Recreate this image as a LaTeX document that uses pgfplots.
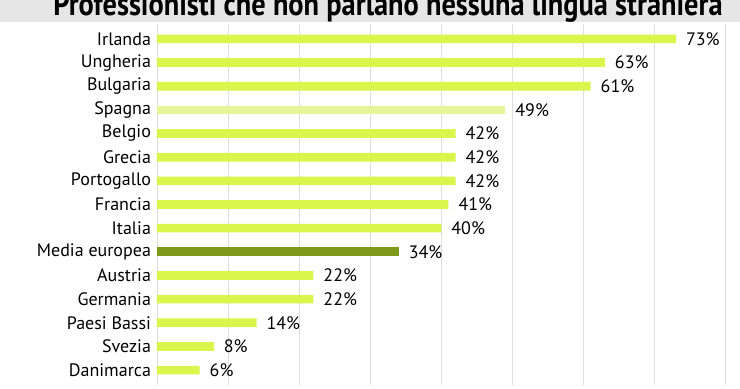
\documentclass[border=0pt]{standalone}
\usepackage{pgfplots}
\pgfplotsset{compat=1.18}
\usepackage{pgfplotstable}
\usepackage{fontspec}
\setmainfont{PT Sans}
\definecolor{barcol}{HTML}{DAF54B}
\definecolor{spcol}{HTML}{E6F59C}
\definecolor{eucol}{HTML}{7E9A1A}
\definecolor{gridcol}{HTML}{DDDDDD}
\definecolor{bandcol}{HTML}{E6E6E6}
\pgfplotstableread{
y v
0 73
1 63
2 61
4 42
5 42
6 42
7 41
8 40
10 22
11 22
12 14
13 8
14 6
}\maindata
\pgfplotstableread{
y v
3 49
}\spdata
\pgfplotstableread{
y v
9 34
}\eudata
\begin{document}
\begin{tikzpicture}
\useasboundingbox (0pt,0pt) rectangle (555pt,-291.75pt);
\clip (0pt,0pt) rectangle (555pt,-291.75pt);
\fill[bandcol] (0pt,0pt) rectangle (555pt,-16.5pt);
\node[anchor=base, inner sep=0pt, font=\bfseries\fontsize{24pt}{28pt}\selectfont] at (291pt,-11.6pt) {\resizebox{502pt}{!}{\scalebox{1}[1.15]{Professionisti che non parlano nessuna lingua straniera}}};
\begin{axis}[
  at={(117.75pt,-18pt)}, anchor=north west,
  scale only axis, width=437.25pt, height=270.75pt,
  xbar, bar width=6.5pt, bar shift=0pt,
  xmin=0, xmax=82, ymin=-0.63, ymax=14.63, y dir=reverse,
  xtick={0,10,...,80}, xticklabels={},
  xmajorgrids, grid style={gridcol, line width=0.6pt},
  ytick={0,...,14},
  yticklabels={Irlanda,Ungheria,Bulgaria,Spagna,Belgio,Grecia,Portogallo,Francia,Italia,Media europea,Austria,Germania,Paesi Bassi,Svezia,Danimarca},
  yticklabel style={font=\fontsize{13.5pt}{15pt}\selectfont, xshift=-1pt},
  major tick length=0pt,
  axis line style={draw=none},
  /pgf/number format/assume math mode=true,
  nodes near coords={\pgfmathprintnumber{\pgfplotspointmeta}\%},
  nodes near coords style={font=\fontsize{13.5pt}{15pt}\selectfont, black, anchor=west, xshift=4pt},
  clip=false,
]
\addplot[draw=none, fill=barcol] table[x=v,y=y] {\maindata};
\addplot[draw=none, fill=spcol] table[x=v,y=y] {\spdata};
\addplot[draw=none, fill=eucol] table[x=v,y=y] {\eudata};
\end{axis}
\end{tikzpicture}
\end{document}
